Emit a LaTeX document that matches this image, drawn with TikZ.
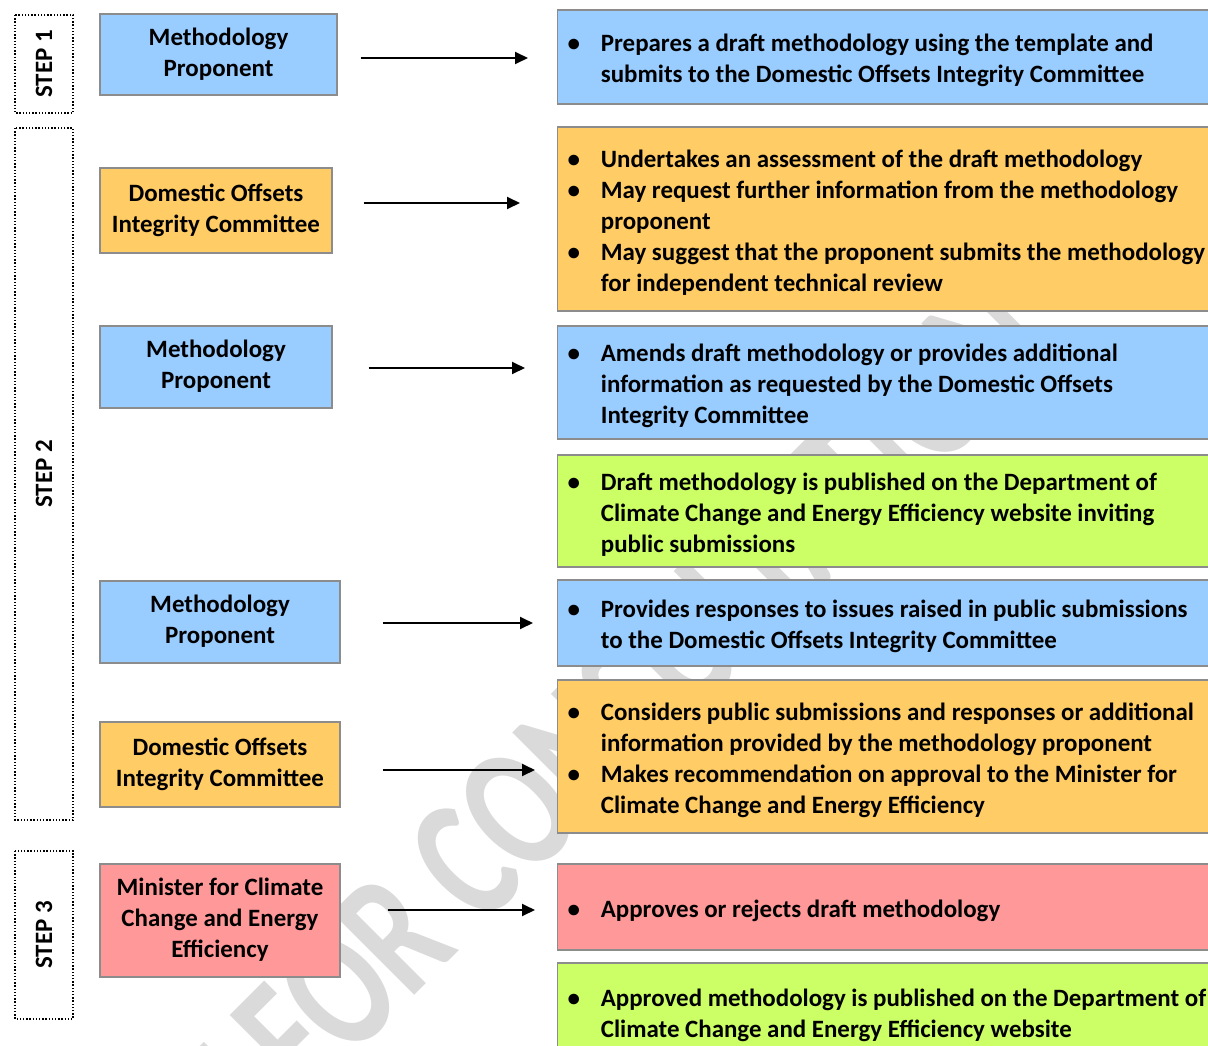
\documentclass[tikz,border=0pt]{standalone}
\usepackage{fontspec}
\usepackage{graphicx}
\setmainfont{Carlito}
\usetikzlibrary{arrows.meta,calc}
\definecolor{cblue}{HTML}{99CCFF}
\definecolor{corange}{HTML}{FFCC66}
\definecolor{cgreen}{HTML}{CCFF66}
\definecolor{cred}{HTML}{FF9999}
\definecolor{cborder}{HTML}{8C8C8C}
\definecolor{wmgray}{HTML}{DADADA}
\newcommand\bitem{\par\noindent\hangindent=25pt\hangafter=1\makebox[25pt][l]{\textbullet}}
\newcommand\boxfont{\fontsize{18.7}{23.25}\selectfont\bfseries}
\newcommand\rtext[1]{\raisebox{-2.6pt}[\height][\depth]{\begin{minipage}{560pt}#1\end{minipage}}}
\newcommand\ctext[1]{\begin{tabular}{@{}c@{}}#1\end{tabular}}
\newcommand\wmtext[1]{\scalebox{1}[1.4]{#1}}
\begin{document}
\begin{tikzpicture}[x=0.75pt,y=-0.75pt,
  lbox/.style={draw=cborder, line width=0.8pt, inner sep=0pt, font=\boxfont},
  rbox/.style={draw=cborder, line width=0.8pt, anchor=west, inner xsep=7.5pt, inner ysep=0pt, font=\boxfont},
  stepbox/.style={draw, line width=1.1pt, dash pattern=on 1.1pt off 1.3pt, rotate=90,
    inner sep=0pt, font=\boxfont},
  arr/.style={line width=1.4pt, -{Triangle[length=9.75pt,width=9pt]}},
  wm/.style={text=wmgray, font=\fontsize{96}{96}\selectfont\bfseries, rotate=45, inner sep=0pt}
]
\useasboundingbox (0,0) rectangle (1208,1046);
\clip (0,0) rectangle (1208,1046);

% watermark
\node[wm, anchor=west] (wmb) at (440,888) {\wmtext{CONSULTATION}};
\node[wm, anchor=east] (wma) at (wmb.west) {\wmtext{DRAFT FOR\ }};

% step frames
\node[stepbox, minimum width=98*0.75pt, minimum height=58*0.75pt] (s1) at (44,64) {STEP 1};
\node[stepbox, minimum width=692*0.75pt, minimum height=58*0.75pt] (s2) at (44,474) {STEP 2};
\node[stepbox, minimum width=168*0.75pt, minimum height=58*0.75pt] (s3) at (44,935) {STEP 3};

% left boxes
\node[lbox, fill=cblue, minimum width=237*0.75pt, minimum height=81*0.75pt] (l1) at (218.5,54.5) {\ctext{Methodology\\Proponent}};
\node[lbox, fill=corange, minimum width=232*0.75pt, minimum height=85*0.75pt] (l2) at (216,210.5) {\ctext{Domestic Offsets\\Integrity Committee}};
\node[lbox, fill=cblue, minimum width=232*0.75pt, minimum height=82*0.75pt] (l3) at (216,367) {\ctext{Methodology\\Proponent}};
\node[lbox, fill=cblue, minimum width=240*0.75pt, minimum height=82*0.75pt] (l4) at (220,622) {\ctext{Methodology\\Proponent}};
\node[lbox, fill=corange, minimum width=240*0.75pt, minimum height=85*0.75pt] (l5) at (220,764.5) {\ctext{Domestic Offsets\\Integrity Committee}};
\node[lbox, fill=cred, minimum width=240*0.75pt, minimum height=113*0.75pt] (l6) at (220,920.5) {\ctext{Minister for Climate\\Change and Energy\\Efficiency}};

% right boxes
\node[rbox, fill=cblue, minimum height=94*0.75pt] (r1) at (557,57) {\rtext{\bitem Prepares a draft methodology using the template and\newline submits to the Domestic Offsets Integrity Committee}};
\node[rbox, fill=corange, minimum height=184*0.75pt] (r2) at (557,219) {\rtext{\bitem Undertakes an assessment of the draft methodology
\bitem May request further information from the methodology\newline proponent
\bitem May suggest that the proponent submits the methodology\newline for independent technical review}};
\node[rbox, fill=cblue, minimum height=113*0.75pt] (r3) at (557,382.5) {\rtext{\bitem Amends draft methodology or provides additional\newline information as requested by the Domestic Offsets\newline Integrity Committee}};
\node[rbox, fill=cgreen, minimum height=112*0.75pt] (r4) at (557,511) {\rtext{\bitem Draft methodology is published on the Department of\newline Climate Change and Energy Efficiency website inviting\newline public submissions}};
\node[rbox, fill=cblue, minimum height=86*0.75pt] (r5) at (557,623) {\rtext{\bitem Provides responses to issues raised in public submissions\newline to the Domestic Offsets Integrity Committee}};
\node[rbox, fill=corange, minimum height=153*0.75pt] (r6) at (557,756.5) {\rtext{\bitem Considers public submissions and responses or additional\newline information provided by the methodology proponent
\bitem Makes recommendation on approval to the Minister for\newline Climate Change and Energy Efficiency}};
\node[rbox, fill=cred, minimum height=86*0.75pt] (r7) at (557,907) {\rtext{\bitem Approves or rejects draft methodology}};
\node[rbox, fill=cgreen, minimum height=97*0.75pt] (r8) at (557,1011.5) {\rtext{\bitem Approved methodology is published on the Department of\newline Climate Change and Energy Efficiency website}};

% arrows
\draw[arr] ($(l1.east)+(23,3.5)$) -- ($(r1.west)+(-29,1)$);
\draw[arr] ($(l2.east)+(31,-7.5)$) -- ($(r2.west)+(-37,-16)$);
\draw[arr] ($(l3.east)+(36,1)$) -- ($(r3.west)+(-32,-14.5)$);
\draw[arr] ($(l4.east)+(42,1)$) -- ($(r5.west)+(-24,0)$);
\draw[arr] ($(l5.east)+(42,5.5)$) -- ($(r6.west)+(-22,13.5)$);
\draw[arr] ($(l6.east)+(47,-10.5)$) -- ($(r7.west)+(-22,3)$);
\end{tikzpicture}
\end{document}
